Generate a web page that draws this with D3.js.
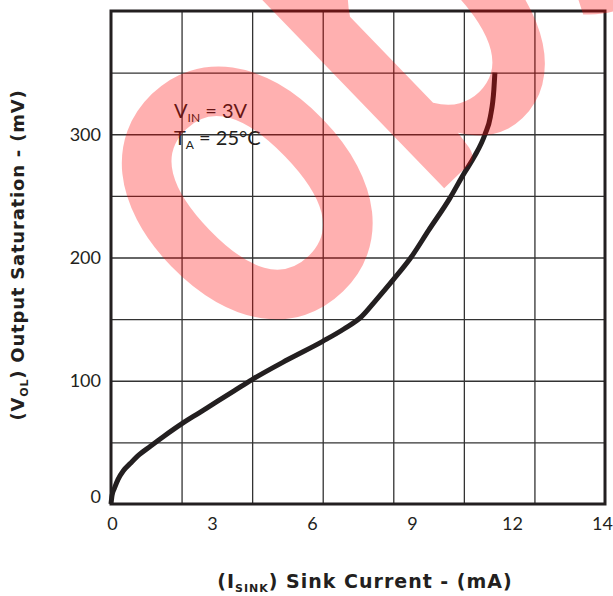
<!DOCTYPE html>
<html>
<head>
<meta charset="utf-8">
<script src="https://cdn.jsdelivr.net/npm/d3@7"></script>
<style>
  body { margin: 0; background: #fff; }
  text { font-family: Lato, "DejaVu Sans", sans-serif; fill: #231f20; }
  .title { font-family: "DejaVu Sans", sans-serif; font-weight: 700; }
</style>
</head>
<body>
<div id="vis-container"></div>
<script>
// Values (sink current in mA, saturation in mV)
const sinkCurrent = [0, 0.03, 0.1, 0.2, 0.35, 0.55, 0.8, 1.1, 1.5, 2.0, 2.5, 3.0, 3.5, 4.0, 5.0, 6.0, 6.6, 7.1, 7.5, 8.0, 8.5, 9.0, 9.6, 10.0, 10.3, 10.6, 10.75, 10.85, 10.88];
const outputSat   = [0, 7, 13, 20, 27, 33, 40, 46.5, 55, 65, 74, 83, 92, 101, 117, 132, 142, 152, 165, 182, 200, 222, 248, 268, 282, 300, 314, 336, 350];

// grid and tick labels
const xGridValues = [2, 4, 6, 8, 10, 12];
const yGridValues = [50, 100, 150, 200, 250, 300, 350];
const xTickLabels = [0, 3, 6, 9, 12, 14];
const yTickLabels = [0, 100, 200, 300];

const width = 613;
const height = 596;
const margin = { top: 11, right: 8, bottom: 92, left: 111 };

const svg = d3.select("#vis-container")
  .append("svg")
  .attr("width", width)
  .attr("height", height);

// Scales
const x = d3.scaleLinear()
  .domain([0, 14])
  .range([margin.left, width - margin.right]);

const y = d3.scaleLinear()
  .domain([0, 400])
  .range([height - margin.bottom, margin.top]);

// the printed labels don't sit on the grid in the original, so they get their own scales
const xLabel = d3.scaleLinear()
  .domain([0, 12, 14])
  .range([112, 512, 602]);

const yLabel = d3.scaleLinear()
  .domain([0, 100, 400])
  .range([y(0) - 7, y(100), y(400)]);

// Grid lines
svg.append("g")
  .attr("transform", `translate(0,${y(0)})`)
  .call(d3.axisBottom(x).tickValues(xGridValues).tickSize(-(y(0) - y(400))).tickFormat(""))
  .call(g => g.select(".domain").remove())
  .call(g => g.selectAll("line").attr("stroke", "#333").attr("stroke-width", 1.3));

svg.append("g")
  .attr("transform", `translate(${x(0)},0)`)
  .call(d3.axisLeft(y).tickValues(yGridValues).tickSize(-(x(14) - x(0))).tickFormat(""))
  .call(g => g.select(".domain").remove())
  .call(g => g.selectAll("line").attr("stroke", "#333").attr("stroke-width", 1.3));

// Frame
svg.append("rect")
  .attr("x", x(0))
  .attr("y", y(400))
  .attr("width", x(14) - x(0))
  .attr("height", y(0) - y(400))
  .attr("fill", "none")
  .attr("stroke", "#231f20")
  .attr("stroke-width", 3);

// Tick labels
svg.append("g")
  .attr("transform", `translate(0,${y(0)})`)
  .call(d3.axisBottom(xLabel).tickValues(xTickLabels).tickSize(0).tickPadding(13))
  .attr("font-size", null)
  .call(g => g.select(".domain").remove())
  .call(g => g.selectAll("text").attr("font-size", "18px").attr("font-family", null));

svg.append("g")
  .attr("transform", `translate(${x(0)},0)`)
  .call(d3.axisLeft(yLabel).tickValues(yTickLabels).tickSize(0).tickPadding(10))
  .attr("font-size", null)
  .call(g => g.select(".domain").remove())
  .call(g => g.selectAll("text").attr("font-size", "18px").attr("font-family", null));

// Curve
const line = d3.line()
  .x(i => x(sinkCurrent[i]))
  .y(i => y(outputSat[i]))
  .curve(d3.curveMonotoneX);

svg.append("path")
  .datum(d3.range(sinkCurrent.length))
  .attr("d", line)
  .attr("fill", "none")
  .attr("stroke", "#231f20")
  .attr("stroke-width", 5);

// Conditions note
const note = svg.append("text").attr("font-size", "20px");
note.append("tspan").attr("x", 174).attr("y", 118).text("V");
note.append("tspan").attr("font-size", "12px").attr("dy", 4).text("IN");
note.append("tspan").attr("dy", -4).text(" = 3V");
const note2 = svg.append("text").attr("font-size", "20px");
note2.append("tspan").attr("x", 174).attr("y", 145).text("T");
note2.append("tspan").attr("font-size", "12px").attr("dy", 4).text("A");
note2.append("tspan").attr("dy", -4).text(" = 25°C");

// Axis titles
const xt = svg.append("text")
  .attr("class", "title")
  .attr("x", 365)
  .attr("y", 588)
  .attr("text-anchor", "middle")
  .attr("font-size", "19px")
  .attr("letter-spacing", "1px");
xt.append("tspan").text("(I");
xt.append("tspan").attr("font-size", "11px").attr("dy", 4).text("SINK");
xt.append("tspan").attr("dy", -4).text(")  Sink Current - (mA)");

const yt = svg.append("text")
  .attr("class", "title")
  .attr("transform", "translate(24,255) rotate(-90)")
  .attr("text-anchor", "middle")
  .attr("font-size", "18px")
  .attr("letter-spacing", "0.8px");
yt.append("tspan").text("(V");
yt.append("tspan").attr("font-size", "11px").attr("dy", 4).text("OL");
yt.append("tspan").attr("dy", -4).text(")  Output Saturation - (mV)");

// Watermark on top
svg.append("text")
  .attr("transform", "translate(254,372) rotate(-44) scale(0.8,1)")
  .attr("font-family", '"Liberation Sans", sans-serif')
  .attr("font-weight", "bold")
  .attr("font-size", 520)
  .style("fill", "#ff0000")
  .style("fill-opacity", 0.31)
  .text("obsolete");
</script>
</body>
</html>
